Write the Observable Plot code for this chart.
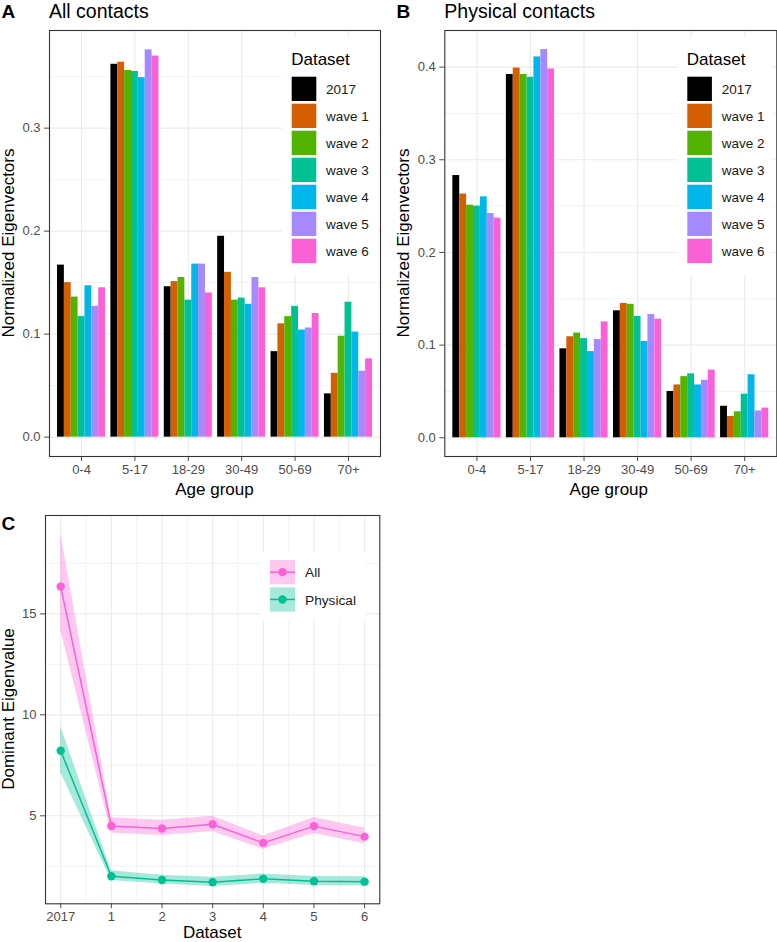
<!DOCTYPE html>
<html>
<head>
<meta charset="utf-8">
<script src="https://cdn.jsdelivr.net/npm/d3@7"></script>
<script src="https://cdn.jsdelivr.net/npm/@observablehq/plot@0.6"></script>
<style>
  body { margin: 0; background: #fff; }
  #wrap { position: relative; width: 777px; height: 942px; overflow: hidden; font-family: "Liberation Sans", Arial, sans-serif; }
  #wrap > svg { position: absolute; }
  #wrap svg text { font-family: "Liberation Sans", Arial, sans-serif; }
  #wrap svg.pp text { font-size: 13px !important; fill: #4D4D4D; }
</style>
</head>
<body>
<div id="wrap"></div>
<script>
// ---------- data ----------
const ageGroups = ["0-4", "5-17", "18-29", "30-49", "50-69", "70+"];
const datasetNames = ["2017", "wave 1", "wave 2", "wave 3", "wave 4", "wave 5", "wave 6"];
const datasetColors = ["#000000", "#D55E00", "#53B400", "#00C094", "#00B6EB", "#A58AFF", "#FB61D7"];

// Normalized eigenvectors, all contacts (one row per dataset, one value per age group)
const allContacts = [
  [0.167, 0.362, 0.146, 0.195, 0.083, 0.042],
  [0.150, 0.364, 0.151, 0.160, 0.110, 0.062],
  [0.136, 0.356, 0.155, 0.133, 0.117, 0.098],
  [0.117, 0.355, 0.133, 0.135, 0.127, 0.131],
  [0.147, 0.349, 0.168, 0.129, 0.104, 0.102],
  [0.127, 0.376, 0.168, 0.155, 0.106, 0.064],
  [0.145, 0.370, 0.140, 0.145, 0.120, 0.076]
];
// Normalized eigenvectors, physical contacts
const physicalContacts = [
  [0.283, 0.392, 0.096, 0.137, 0.050, 0.034],
  [0.263, 0.399, 0.109, 0.145, 0.057, 0.023],
  [0.251, 0.392, 0.113, 0.144, 0.066, 0.028],
  [0.250, 0.389, 0.107, 0.131, 0.069, 0.047],
  [0.260, 0.411, 0.093, 0.104, 0.057, 0.068],
  [0.242, 0.419, 0.106, 0.133, 0.062, 0.029],
  [0.237, 0.398, 0.125, 0.128, 0.073, 0.032]
];

// Dominant eigenvalue
const eigenDatasets = ["2017", "1", "2", "3", "4", "5", "6"];
const allEigen   = [16.35, 4.50, 4.37, 4.58, 3.66, 4.49, 3.97];
const allLow     = [14.20, 4.15, 4.02, 4.22, 3.35, 4.12, 3.62];
const allHigh    = [19.00, 4.90, 4.78, 4.98, 4.00, 4.92, 4.40];
const physEigen  = [8.22, 2.01, 1.82, 1.71, 1.88, 1.76, 1.74];
const physLow    = [7.15, 1.80, 1.62, 1.50, 1.66, 1.55, 1.53];
const physHigh   = [9.42, 2.28, 2.06, 1.96, 2.12, 2.00, 1.98];
const seriesNames = ["All", "Physical"];
const seriesColors = ["#FB61D7", "#00C094"];

// tick values
const ticksA = [0, 0.1, 0.2, 0.3];
const minorA = [0.05, 0.15, 0.25, 0.35];
const ticksB = [0, 0.1, 0.2, 0.3, 0.4];
const minorB = [0.05, 0.15, 0.25, 0.35];
const ticksC = [5, 10, 15];
const minorC = [2.5, 7.5, 12.5, 17.5];

// ---------- helpers ----------
const FONT = '"Liberation Sans", Arial, sans-serif';
const GRID = "#EBEBEB";
const wrap = document.getElementById("wrap");

function barRows(matrix) {
  const rows = [];
  const w = 0.9 / datasetNames.length;
  ageGroups.forEach((age, i) => {
    datasetNames.forEach((ds, j) => {
      rows.push({ age, ds, x1: i - 0.45 + j * w, x2: i - 0.45 + (j + 1) * w, v: matrix[j][i] });
    });
  });
  return rows;
}

function barPanel(matrix, yDomain, ticks, minor, marginLeft, marginRight) {
  const idx = ageGroups.map((_, i) => i);
  return Plot.plot({
    width: 390, height: 500,
    marginLeft, marginRight, marginTop: 30, marginBottom: 44,
    style: { fontFamily: FONT, fontSize: "13px", color: "#4D4D4D", background: "transparent", overflow: "visible" },
    x: { domain: [-0.6, 5.6], ticks: idx, tickFormat: i => ageGroups[i], tickSize: 5, tickPadding: 3, label: null },
    y: { domain: yDomain, ticks, tickFormat: d3.format(".1f"), tickSize: 5, tickPadding: 4, label: null },
    color: { domain: datasetNames, range: datasetColors },
    marks: [
      Plot.ruleY(minor, { stroke: GRID, strokeWidth: 0.6 }),
      Plot.ruleY(ticks, { stroke: GRID, strokeWidth: 1.1 }),
      Plot.ruleX(idx, { stroke: GRID, strokeWidth: 1.1 }),
      Plot.rect(barRows(matrix), { x1: "x1", x2: "x2", y1: d => 0, y2: "v", fill: "ds" }),
      Plot.frame({ stroke: "#333333", strokeWidth: 1.1 })
    ]
  });
}

// ---------- panel A ----------
const svgA = barPanel(allContacts, [-0.0188, 0.3948], ticksA, minorA, 49, 10);
svgA.classList.add("pp");
svgA.style.left = "0px"; svgA.style.top = "0px";
wrap.appendChild(svgA);

// ---------- panel B ----------
const svgB = barPanel(physicalContacts, [-0.0202, 0.4395], ticksB, minorB, 54.3, 3.7);
svgB.classList.add("pp");
svgB.style.left = "390px"; svgB.style.top = "0px";
wrap.appendChild(svgB);

// ---------- panel C ----------
const rowsC = [];
eigenDatasets.forEach((d, i) => {
  rowsC.push({ i, series: "All", v: allEigen[i], lo: allLow[i], hi: allHigh[i] });
});
eigenDatasets.forEach((d, i) => {
  rowsC.push({ i, series: "Physical", v: physEigen[i], lo: physLow[i], hi: physHigh[i] });
});
const idxC = eigenDatasets.map((_, i) => i);
const minorXC = idxC.slice(1).map(i => i - 0.5);
const svgC = Plot.plot({
  width: 390, height: 442,
  marginLeft: 45, marginRight: 10.7, marginTop: 15, marginBottom: 38.7,
  style: { fontFamily: FONT, fontSize: "13px", color: "#4D4D4D", background: "transparent", overflow: "visible" },
  x: { domain: [-0.3, 6.3], ticks: idxC, tickFormat: i => eigenDatasets[i], tickSize: 5, tickPadding: 3, label: null },
  y: { domain: [0.644, 19.87], ticks: ticksC, tickSize: 5, tickPadding: 4, label: null },
  color: { domain: seriesNames, range: seriesColors },
  marks: [
    Plot.ruleY(minorC, { stroke: GRID, strokeWidth: 0.6 }),
    Plot.ruleX(minorXC, { stroke: GRID, strokeWidth: 0.6 }),
    Plot.ruleY(ticksC, { stroke: GRID, strokeWidth: 1.1 }),
    Plot.ruleX(idxC, { stroke: GRID, strokeWidth: 1.1 }),
    Plot.areaY(rowsC, { x: "i", y1: "lo", y2: "hi", z: "series", fill: "series", fillOpacity: 0.35 }),
    Plot.line(rowsC, { x: "i", y: "v", z: "series", stroke: "series", strokeWidth: 1.5 }),
    Plot.dot(rowsC, { x: "i", y: "v", fill: "series", r: 4.2 }),
    Plot.frame({ stroke: "#333333", strokeWidth: 1.1 })
  ]
});
svgC.classList.add("pp");
svgC.style.left = "0px"; svgC.style.top = "500px";
wrap.appendChild(svgC);

// ---------- overlay: titles, axis titles, legends ----------
const ov = d3.select(wrap).append("svg")
  .attr("width", 777).attr("height", 942)
  .style("left", "0px").style("top", "0px")
  .style("font-family", FONT);

function txt(x, y, s, opts = {}) {
  const t = ov.append("text").attr("x", x).attr("y", y).text(s)
    .attr("font-size", opts.size || 17)
    .attr("fill", opts.fill || "#000")
    .attr("text-anchor", opts.anchor || "start");
  if (opts.bold) t.attr("font-weight", "bold");
  if (opts.rotate) t.attr("transform", `rotate(-90 ${x} ${y})`);
  return t;
}

// panel tags & titles
txt(1.5, 17.5, "A", { size: 19, bold: true });
txt(49, 17.5, "All contacts", { size: 19.5 });
txt(396.5, 17.5, "B", { size: 19, bold: true });
txt(444.3, 17.5, "Physical contacts", { size: 19.5 });
txt(1.5, 530, "C", { size: 19, bold: true });

// axis titles
txt(13.9, 243, "Normalized Eigenvectors", { rotate: true, anchor: "middle" });
txt(409.3, 243, "Normalized Eigenvectors", { rotate: true, anchor: "middle" });
txt(214.5, 495, "Age group", { anchor: "middle" });
txt(608.8, 495, "Age group", { anchor: "middle" });
txt(13.9, 709, "Dominant Eigenvalue", { rotate: true, anchor: "middle" });
txt(212.2, 937.5, "Dataset", { anchor: "middle" });

// bar legends
function barLegend(boxX, boxRight, keyX, labelX) {
  ov.append("rect").attr("x", boxX).attr("y", 38).attr("width", boxRight - boxX).attr("height", 236.5).attr("fill", "#fff");
  txt(keyX - 0.5, 65, "Dataset", { size: 17 });
  datasetNames.forEach((name, i) => {
    const y0 = 76.7 + i * 27;
    ov.append("rect").attr("x", keyX).attr("y", y0).attr("width", 24.6).attr("height", 24.3)
      .attr("fill", datasetColors[i]);
    txt(labelX, y0 + 12 + 5.3, name, { size: 13.5, fill: "#1a1a1a" });
  });
}
barLegend(282, 378.5, 291.7, 326);
barLegend(677.7, 772, 687.3, 721.7);

// line legend
ov.append("rect").attr("x", 261).attr("y", 552).attr("width", 105).attr("height", 68).attr("fill", "#fff");
seriesNames.forEach((name, i) => {
  const y0 = 560 + i * 27.3;
  ov.append("rect").attr("x", 270).attr("y", y0).attr("width", 25).attr("height", 24.3)
    .attr("fill", seriesColors[i]).attr("fill-opacity", 0.35);
  ov.append("line").attr("x1", 270).attr("x2", 295).attr("y1", y0 + 12.15).attr("y2", y0 + 12.15)
    .attr("stroke", seriesColors[i]).attr("stroke-width", 1.5);
  ov.append("circle").attr("cx", 282.5).attr("cy", y0 + 12.15).attr("r", 4.2).attr("fill", seriesColors[i]);
  txt(305, y0 + 12.15 + 5.2, name, { size: 13.7, fill: "#1a1a1a" });
});
</script>
</body>
</html>
